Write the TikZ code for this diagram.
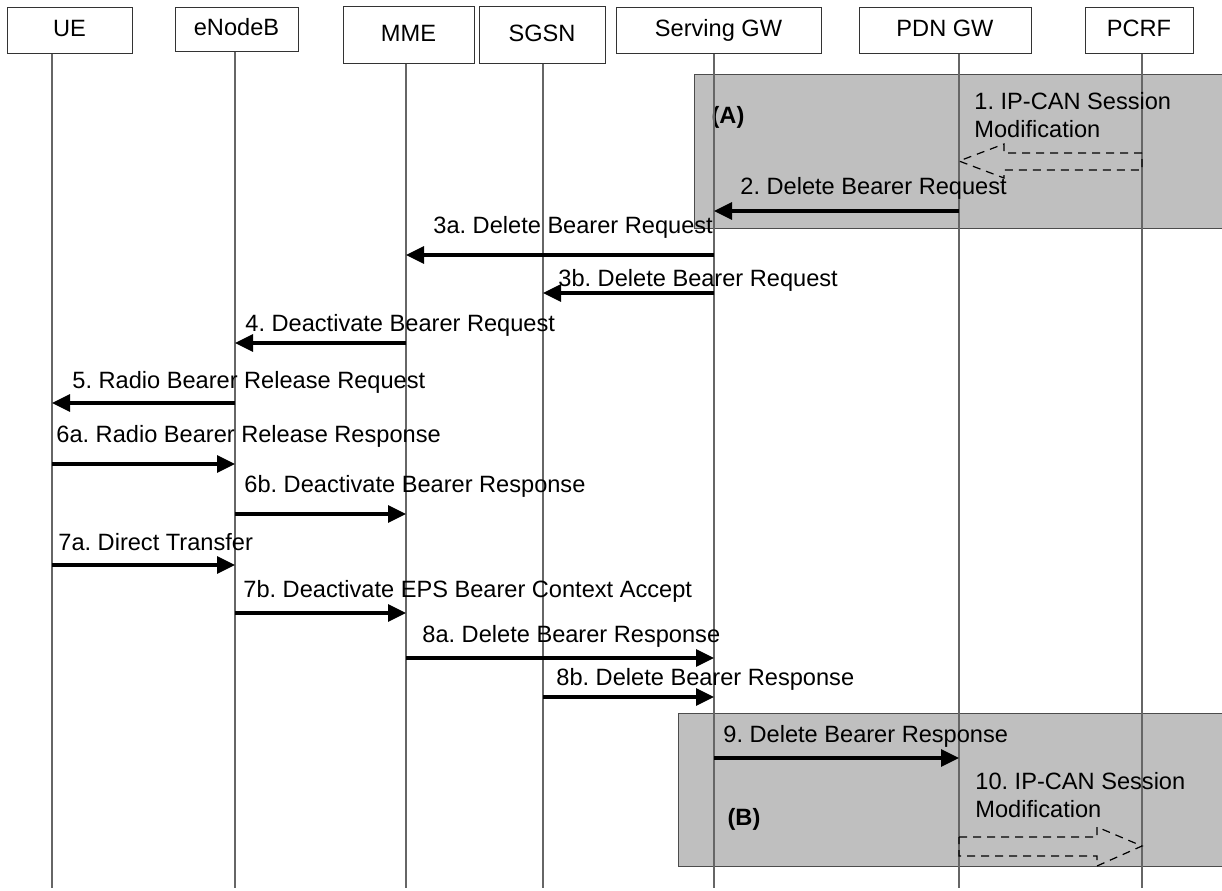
\documentclass[tikz,border=0pt]{standalone}
\usepackage{fontspec}
\setmainfont{Liberation Sans}
\usepackage{xcolor}
\usepackage{tikz}
\usetikzlibrary{arrows.meta,positioning,calc}
\frenchspacing

\begin{document}
\begin{tikzpicture}[x=0.5pt, y=-0.5pt,
  every node/.style={font=\fontsize{11.8}{13.75}\selectfont, inner sep=0pt},
  entity/.style={draw=black!80, line width=0.5pt, text height=8.5pt, text depth=2pt},
  life/.style={draw=black!60, line width=0.6pt},
  msg/.style={line width=1.6pt, -{Triangle[length=9pt,width=8.5pt]}},
  zone/.style={draw=black!70, fill=black!25, line width=0.5pt},
  bigarrow/.style={draw=black, line width=0.6pt, dash pattern=on 4pt off 3pt},
  lbl/.style={anchor=west},
]
\clip (0,0) rectangle (1222,890);
% shaded areas
\draw[zone] (694,74) rectangle (1240,228);
\draw[zone] (678,713) rectangle (1240,866);
\node[font=\fontsize{11.8}{13.75}\selectfont\bfseries] (zA) at (728,117) {(A)};
\node[font=\fontsize{11.8}{13.75}\selectfont\bfseries] (zB) at (744,819) {(B)};

% entities
\node[entity, minimum width=62.5pt, minimum height=23pt] (ue) at (69.5,30) {UE};
\node[entity, minimum width=61.5pt, minimum height=22pt] (enb) at (236.5,29) {eNodeB};
\node[entity, minimum width=65.5pt, minimum height=28.5pt] (mme) at (408.5,34.5) {MME};
\node[entity, minimum width=63pt, minimum height=28.5pt] (sgsn) at (542,34.5) {SGSN};
\node[entity, minimum width=102.5pt, minimum height=23pt] (sgw) at (718.5,30) {Serving GW};
\node[entity, minimum width=86pt, minimum height=23pt] (pdn) at (945,30) {PDN GW};
\node[entity, minimum width=54pt, minimum height=23pt] (pcrf) at (1139,30) {PCRF};

% lifelines
\coordinate (ueB) at (52,888);
\coordinate (enbB) at (235,888);
\coordinate (mmeB) at (406,888);
\coordinate (sgsnB) at (543,888);
\coordinate (sgwB) at (714,888);
\coordinate (pdnB) at (959,888);
\coordinate (pcrfB) at (1142,888);
\draw[life] (ueB |- ue.south) -- (ueB);
\draw[life] (enbB |- enb.south) -- (enbB);
\draw[life] (mmeB |- mme.south) -- (mmeB);
\draw[life] (sgsnB |- sgsn.south) -- (sgsnB);
\draw[life] (sgwB |- sgw.south) -- (sgwB);
\draw[life] (pdnB |- pdn.south) -- (pdnB);
\draw[life] (pcrfB |- pcrf.south) -- (pcrfB);

% 1. and 10. policy interaction
\draw[bigarrow] (1142,153) -- (1004,153) -- (1004,144) -- (959,161) -- (1004,178) -- (1004,170) -- (1142,170) -- cycle;
\node[lbl, align=left] (m1) at (974,115) {1. IP-CAN Session\\Modification};
\draw[bigarrow] (959,837) -- (1097,837) -- (1097,827) -- (1142,846) -- (1097,866) -- (1097,856) -- (959,856) -- cycle;
\node[lbl, align=left] (m10) at (975,795) {10. IP-CAN Session\\Modification};

% messages
\draw[msg] (pdnB |- 0,211) -- (sgwB |- 0,211);
\node[lbl] (m2) at (740,188) {2. Delete Bearer Request};
\draw[msg] (sgwB |- 0,255) -- (mmeB |- 0,255);
\node[lbl] (m3a) at (433,227) {3a. Delete Bearer Request};
\draw[msg] (sgwB |- 0,293) -- (sgsnB |- 0,293);
\node[lbl] (m3b) at (558,280) {3b. Delete Bearer Request};
\draw[msg] (mmeB |- 0,343) -- (enbB |- 0,343);
\node[lbl] (m4) at (245,325) {4. Deactivate Bearer Request};
\draw[msg] (enbB |- 0,403) -- (ueB |- 0,403);
\node[lbl] (m5) at (72,382) {5. Radio Bearer Release Request};
\draw[msg] (ueB |- 0,464) -- (enbB |- 0,464);
\node[lbl] (m6a) at (56,436) {6a. Radio Bearer Release Response};
\draw[msg] (enbB |- 0,514) -- (mmeB |- 0,514);
\node[lbl] (m6b) at (244,486) {6b. Deactivate Bearer Response};
\draw[msg] (ueB |- 0,565) -- (enbB |- 0,565);
\node[lbl] (m7a) at (58,542) {7a. Direct Transfer};
\draw[msg] (enbB |- 0,613) -- (mmeB |- 0,613);
\node[lbl] (m7b) at (243,591) {7b. Deactivate EPS Bearer Context Accept};
\draw[msg] (mmeB |- 0,658) -- (sgwB |- 0,658);
\node[lbl] (m8a) at (422,636) {8a. Delete Bearer Response};
\draw[msg] (sgsnB |- 0,697) -- (sgwB |- 0,697);
\node[lbl] (m8b) at (556,679) {8b. Delete Bearer Response};
\draw[msg] (sgwB |- 0,758) -- (pdnB |- 0,758);
\node[lbl] (m9) at (723,736) {9. Delete Bearer Response};
\end{tikzpicture}
\end{document}
